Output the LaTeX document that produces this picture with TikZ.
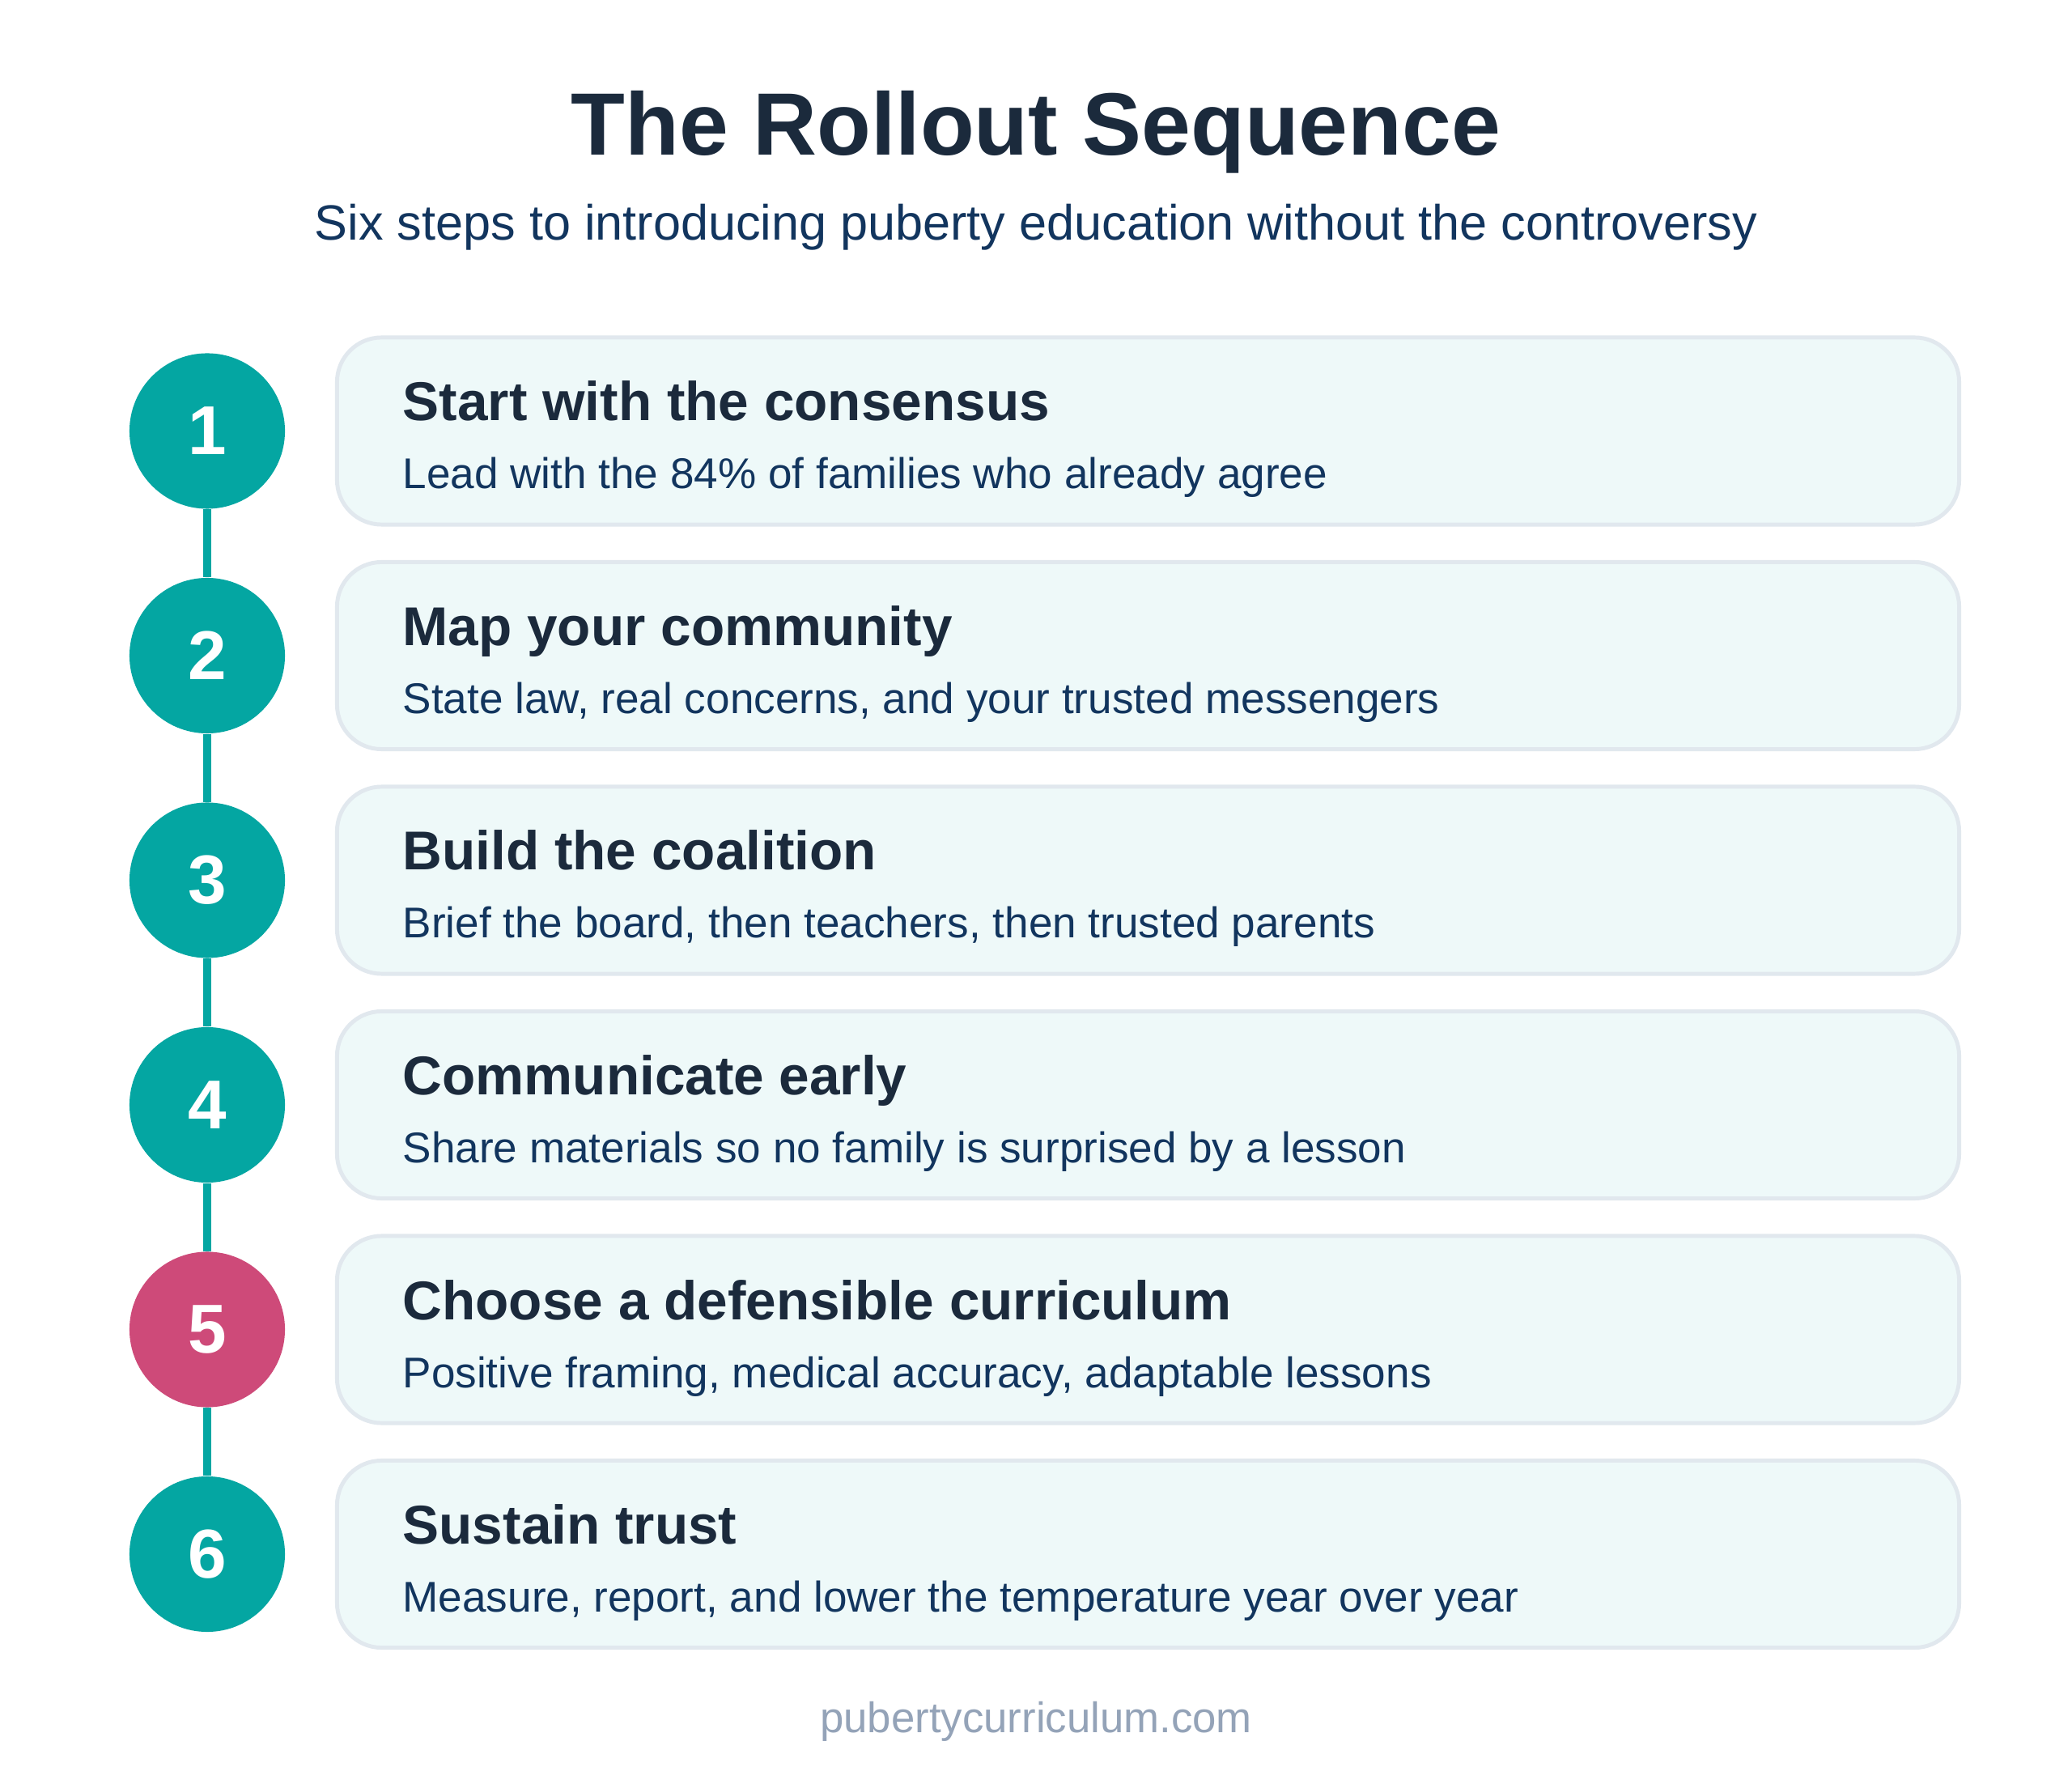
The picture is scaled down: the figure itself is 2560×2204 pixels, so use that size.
\documentclass[tikz,border=0pt]{standalone}
\usepackage{fontspec}
\setmainfont{Liberation Sans}
\usetikzlibrary{positioning}

\definecolor{tealdot}{HTML}{04A6A2}
\definecolor{pinkdot}{HTML}{CE4A79}
\definecolor{inkdark}{HTML}{1B2A3C}
\definecolor{inknavy}{HTML}{12355E}
\definecolor{boxfill}{HTML}{EEF9F9}
\definecolor{boxline}{HTML}{E1E8EE}
\definecolor{footgray}{HTML}{94A3B8}

\tikzset{
  stepdot/.style={circle, fill=tealdot, inner sep=0pt, minimum size=1.92cm,
    text=white, font=\fontsize{24.3}{28}\selectfont\bfseries},
  stepcard/.style={draw=boxline, line width=1.4pt, fill=boxfill, rounded corners=0.55cm,
    minimum width=20.03cm, minimum height=2.31cm, inner sep=0pt},
  steptitle/.style={anchor=base west, inner sep=0pt, text=inkdark,
    font=\fontsize{19.2}{24}\selectfont\bfseries},
  stepnote/.style={anchor=base west, inner sep=0pt, text=inknavy,
    font=\fontsize{15.1}{18}\selectfont},
  link/.style={draw=tealdot, line width=3.1pt}
}

\begin{document}
\begin{tikzpicture}[x=0.01cm, y=-0.01cm]
    \useasboundingbox[fill=white] (0,0) rectangle (2560,2204);

    % heading
    \node[anchor=base, inner sep=0pt, text=inkdark, font=\fontsize{31.1}{36}\selectfont\bfseries] (title) at (1280,192) {The Rollout Sequence};
    \node[anchor=base, inner sep=0pt, text=inknavy, font=\fontsize{17.4}{20}\selectfont] (subtitle) at (1280,297) {Six steps to introducing puberty education without the controversy};

    % cards
    \node[stepcard] (card1) at (1418.5,532.5) {};
    \node[stepcard] (card2) at (1418.5,810) {};
    \node[stepcard] (card3) at (1418.5,1087.5) {};
    \node[stepcard] (card4) at (1418.5,1365) {};
    \node[stepcard] (card5) at (1418.5,1642.5) {};
    \node[stepcard] (card6) at (1418.5,1920) {};

    % numbered dots
    \node[stepdot] (dot1) at (256,532.5) {1};
    \node[stepdot] (dot2) at (256,810) {2};
    \node[stepdot] (dot3) at (256,1087.5) {3};
    \node[stepdot] (dot4) at (256,1365) {4};
    \node[stepdot, fill=pinkdot] (dot5) at (256,1642.5) {5};
    \node[stepdot] (dot6) at (256,1920) {6};

    \draw[link] (dot1) -- (dot2);
    \draw[link] (dot2) -- (dot3);
    \draw[link] (dot3) -- (dot4);
    \draw[link] (dot4) -- (dot5);
    \draw[link] (dot5) -- (dot6);

    % card texts
    \node[steptitle] (head1) at (497,520) {Start with the consensus};
    \node[stepnote] (note1) at (497,604) {Lead with the 84\% of families who already agree};
    \node[steptitle] (head2) at (497,797.5) {Map your community};
    \node[stepnote] (note2) at (497,881.5) {State law, real concerns, and your trusted messengers};
    \node[steptitle] (head3) at (497,1075) {Build the coalition};
    \node[stepnote] (note3) at (497,1159) {Brief the board, then teachers, then trusted parents};
    \node[steptitle] (head4) at (497,1352.5) {Communicate early};
    \node[stepnote] (note4) at (497,1436.5) {Share materials so no family is surprised by a lesson};
    \node[steptitle] (head5) at (497,1630) {Choose a defensible curriculum};
    \node[stepnote] (note5) at (497,1714) {Positive framing, medical accuracy, adaptable lessons};
    \node[steptitle] (head6) at (497,1907.5) {Sustain trust};
    \node[stepnote] (note6) at (497,1991.5) {Measure, report, and lower the temperature year over year};

    % footer
    \node[anchor=base, inner sep=0pt, text=footgray, font=\fontsize{15}{18}\selectfont] (site) at (1280,2140) {pubertycurriculum.com};
\end{tikzpicture}
\end{document}
